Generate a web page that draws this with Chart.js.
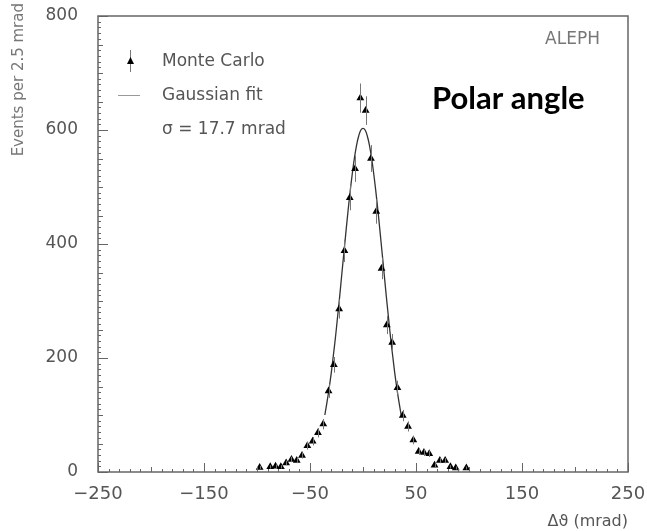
<!DOCTYPE html>
<html>
<head>
<meta charset="utf-8">
<script src="https://cdn.jsdelivr.net/npm/chart.js@4"></script>
<style>
  html, body { margin: 0; padding: 0; background: #fff; }
  #wrap { width: 647px; height: 531px; position: relative; }
</style>
</head>
<body>
<div id="wrap"><canvas id="polarChart" width="647" height="531"></canvas></div>
<script>
// Monte Carlo histogram (bin centres in mrad, events per bin)
const binCentres = [-97.5, -92.5, -87.5, -82.5, -77.5, -72.5, -67.5, -62.5, -57.5, -52.5,
  -47.5, -42.5, -37.5, -32.5, -27.5, -22.5, -17.5, -12.5, -7.5, -2.5,
  2.5, 7.5, 12.5, 17.5, 22.5, 27.5, 32.5, 37.5, 42.5, 47.5,
  52.5, 57.5, 62.5, 67.5, 72.5, 77.5, 82.5, 87.5, 92.5, 97.5];
const mcEvents = [8, null, 9, 10, 9, 16, 22, 20, 29, 46,
  54, 69, 84, 142, 188, 286, 388, 481, 532, 656,
  634, 550, 457, 357, 258, 227, 148, 99, 80, 56,
  36, 34, 32, 12, 20, 20, 9, 7, null, 7];

// Gaussian fit curve
const fitAngles = [-36, -34, -32, -30, -28, -26, -24, -22, -20, -18, -16, -14, -12, -10, -8, -6, -4, -2, 0,
  2, 4, 6, 8, 10, 12, 14, 16, 18, 20, 22, 24, 26, 28, 30, 32, 34, 36];
const fitEvents = [100, 122, 146, 173, 204, 236, 272, 308, 347, 385, 423, 460, 494, 525, 552, 574, 590, 600, 603,
  600, 590, 574, 552, 525, 494, 460, 423, 385, 347, 308, 272, 236, 204, 173, 146, 122, 100];

// Axis ticks
const xTickValues = [-250, -150, -50, 50, 150, 250];
const yTickValues = [0, 200, 400, 600, 800];

const legendLabels = ['Monte Carlo', 'Gaussian fit', '\u03c3 = 17.7 mrad'];

const FONT = '"DejaVu Sans", sans-serif';
const GREY = '#555';

function minusLabel(v) {
  return v < 0 ? '\u2212' + Math.abs(v) : String(v);
}

/**
 * Draws the frame, inward tick marks, error bars and the legend texts
 */
const decorPlugin = {
  id: 'decor',
  afterDatasetsDraw(chart) {
    const ctx = chart.ctx;
    const area = chart.chartArea;
    const xs = chart.scales.x;
    const ys = chart.scales.y;

    ctx.save();

    // error bars (Poisson, sqrt N)
    ctx.strokeStyle = '#777';
    ctx.lineWidth = 1;
    binCentres.forEach((c, i) => {
      const n = mcEvents[i];
      if (n === null) return;
      const err = Math.sqrt(n);
      const px = Math.round(xs.getPixelForValue(c)) + 0.5;
      ctx.beginPath();
      ctx.moveTo(px, ys.getPixelForValue(n + err));
      ctx.lineTo(px, ys.getPixelForValue(Math.max(0, n - err)));
      ctx.stroke();
    });

    // inward ticks along x
    ctx.strokeStyle = '#666';
    ctx.lineWidth = 1;
    for (let v = xs.min; v <= xs.max; v += 10) {
      let len = 3;
      if (xTickValues.includes(v)) len = 9;
      else if (v % 50 === 0) len = 5;
      const px = Math.round(xs.getPixelForValue(v)) + 0.5;
      ctx.beginPath();
      ctx.moveTo(px, area.bottom);
      ctx.lineTo(px, area.bottom - len);
      ctx.stroke();
    }
    // inward ticks along y
    for (let v = ys.min; v <= ys.max; v += 10) {
      let len = 3;
      if (yTickValues.includes(v)) len = 10;
      else if (v % 50 === 0) len = 5;
      const py = Math.round(ys.getPixelForValue(v)) + 0.5;
      ctx.beginPath();
      ctx.moveTo(area.left, py);
      ctx.lineTo(area.left + len, py);
      ctx.stroke();
    }

    // frame
    ctx.strokeStyle = '#666';
    ctx.lineWidth = 1.5;
    ctx.strokeRect(area.left, area.top, area.right - area.left, area.bottom - area.top);

    // legend
    const lx = 130;
    ctx.strokeStyle = '#777';
    ctx.lineWidth = 1;
    ctx.beginPath();
    ctx.moveTo(lx + 0.5, 50);
    ctx.lineTo(lx + 0.5, 72);
    ctx.stroke();
    ctx.fillStyle = '#000';
    ctx.beginPath();
    ctx.moveTo(lx + 0.5, 57);
    ctx.lineTo(lx + 4, 64);
    ctx.lineTo(lx - 3, 64);
    ctx.closePath();
    ctx.fill();

    ctx.strokeStyle = '#999';
    ctx.beginPath();
    ctx.moveTo(118, 95.5);
    ctx.lineTo(140, 95.5);
    ctx.stroke();

    ctx.fillStyle = GREY;
    ctx.font = '17px ' + FONT;
    ctx.textAlign = 'left';
    ctx.textBaseline = 'middle';
    ctx.fillText(legendLabels[0], 162, 62);
    ctx.fillText(legendLabels[1], 162, 96);
    ctx.fillText(legendLabels[2], 162, 130);

    ctx.fillStyle = '#777';
    ctx.textAlign = 'right';
    ctx.fillText('ALEPH', 600, 40);

    ctx.fillStyle = '#000';
    ctx.font = 'bold 31px Lato, sans-serif';
    ctx.textAlign = 'left';
    ctx.fillText('Polar angle', 432, 99);

    // y axis title, rotated, near the top
    ctx.save();
    ctx.translate(19, 3);
    ctx.rotate(-Math.PI / 2);
    ctx.fillStyle = '#777';
    ctx.font = '15px ' + FONT;
    ctx.textAlign = 'right';
    ctx.textBaseline = 'middle';
    ctx.fillText('Events per 2.5 mrad', 0, 0);
    ctx.restore();

    ctx.restore();
  }
};

const ctx = document.getElementById('polarChart').getContext('2d');

new Chart(ctx, {
  data: {
    datasets: [
      {
        type: 'scatter',
        label: 'Monte Carlo',
        data: binCentres.map((c, i) => ({ x: c, y: mcEvents[i] })),
        pointStyle: 'triangle',
        pointRadius: 4.5,
        backgroundColor: '#000',
        borderColor: '#000',
        borderWidth: 0
      },
      {
        type: 'line',
        label: 'Gaussian fit',
        data: fitAngles.map((a, i) => ({ x: a, y: fitEvents[i] })),
        borderColor: '#333',
        borderWidth: 1.3,
        pointRadius: 0,
        tension: 0.4,
        fill: false
      }
    ]
  },
  options: {
    responsive: false,
    animation: false,
    layout: { padding: { top: 16, right: 19, left: 0, bottom: 0 } },
    plugins: {
      legend: { display: false },
      tooltip: { enabled: false }
    },
    scales: {
      x: {
        type: 'linear',
        min: -250,
        max: 250,
        afterFit: function(scale) {
          scale.height = 59;
          scale.paddingLeft = 0;
          scale.paddingRight = 0;
        },
        grid: { display: false, drawTicks: false },
        border: { display: false },
        ticks: {
          stepSize: 100,
          padding: 12,
          color: GREY,
          font: { family: FONT, size: 18 },
          maxRotation: 0,
          callback: v => minusLabel(v)
        },
        title: {
          display: true,
          text: '\u0394\u03d1 (mrad)',
          align: 'end',
          color: GREY,
          font: { family: FONT, size: 16 },
          padding: { top: 4, bottom: 0 }
        }
      },
      y: {
        type: 'linear',
        min: 0,
        max: 800,
        afterFit: function(scale) {
          scale.width = 98;
          scale.paddingTop = 0;
          scale.paddingBottom = 0;
        },
        grid: { display: false, drawTicks: false },
        border: { display: false },
        ticks: {
          stepSize: 200,
          padding: 20,
          color: GREY,
          font: { family: FONT, size: 17 },
          callback: v => minusLabel(v)
        }
      }
    }
  },
  plugins: [decorPlugin]
});
</script>
</body>
</html>
